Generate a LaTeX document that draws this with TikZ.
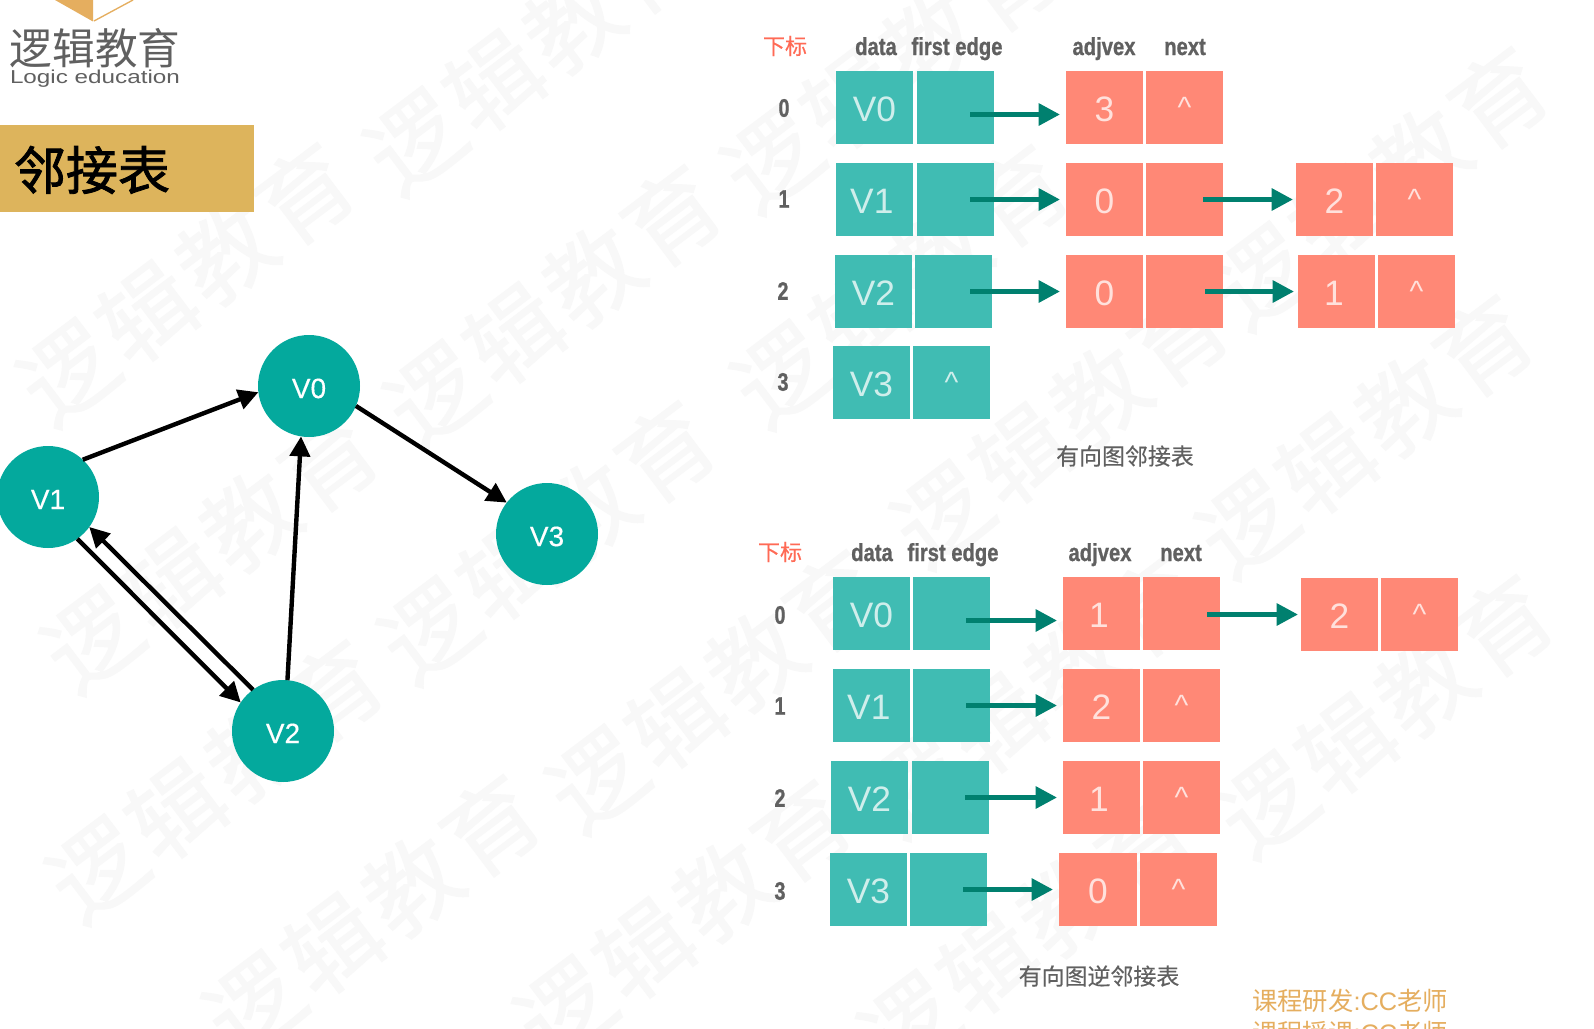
\documentclass[tikz,border=0pt]{standalone}
\usepackage{fontspec}
\setmainfont{Liberation Sans}
\newfontfamily\cjk{Noto Sans CJK SC}
\newfontfamily\cjkwm[FakeBold=1.2,LetterSpace=6]{Noto Sans CJK SC}
\newfontfamily\cjkheavy[FakeBold=1.6]{Noto Sans CJK SC}
\newfontfamily\cjkmid[FakeBold=0.3]{Noto Sans CJK SC}
\newfontfamily\headfont[FakeBold=1]{Liberation Sans Bold}
\newfontfamily\midfont[FakeBold=0.4]{Liberation Sans}
\usetikzlibrary{arrows.meta}
\definecolor{wmark}{HTML}{F8F8F8}
\definecolor{goldbar}{HTML}{DDB45C}
\definecolor{tealc}{HTML}{04A99D}
\definecolor{tealb}{HTML}{40BCB3}
\definecolor{redb}{HTML}{FF8876}
\definecolor{flowc}{HTML}{00806F}
\definecolor{graytx}{HTML}{606060}
\definecolor{redtx}{HTML}{FF6A55}
\definecolor{goldtx}{HTML}{E5AE5F}
\tikzset{
  wm/.style={font=\cjkwm\fontsize{70pt}{70pt}\selectfont,text=wmark,rotate=37,inner sep=0pt},
  vertex/.style={circle,fill=tealc,text=white,minimum size=76.5pt,inner sep=0pt,outer sep=0pt,font=\midfont\fontsize{21pt}{21pt}\selectfont},
  edgeline/.style={draw=black,line width=3.3pt,-{Triangle[length=15pt,width=15pt]}},
  cellbox/.style={inner sep=0pt,outer sep=0pt,text=white,text opacity=.75,font=\fontsize{26.5pt}{26.5pt}\selectfont},
  teal cell/.style={cellbox,fill=tealb},
  red cell/.style={cellbox,fill=redb},
  flow/.style={draw=flowc,line width=3.7pt,-{Triangle[length=16pt,width=16pt]}},
  header/.style={font=\headfont\fontsize{18.5pt}{18.5pt}\selectfont,text=graytx,xscale=.82,inner sep=0pt,anchor=base},
  rowlabel/.style={font=\headfont\fontsize{19pt}{19pt}\selectfont,text=graytx,xscale=.78,inner sep=0pt},
  subscript label/.style={font=\cjkmid\fontsize{16.5pt}{16.5pt}\selectfont,text=redtx,inner sep=0pt},
  caption label/.style={font=\cjkmid\fontsize{17.2pt}{17.2pt}\selectfont,text=graytx,inner sep=0pt},
  credit/.style={font=\cjk\fontsize{19pt}{19pt}\selectfont,text=goldtx,inner sep=0pt,anchor=west},
}
\newcommand{\cellnode}[7]{\node[#6,minimum width={(#4-#2)*0.75},minimum height={(#5-#3)*0.75}] (#1) at ({(#2+#4)/2},{(#3+#5)/2}) {\raisebox{-1pt}[.72em][0pt]{#7}};}
\newcommand{\caretmark}{\raisebox{2.75pt}{\fontsize{22pt}{22pt}\selectfont\textasciicircum}}
\newcommand{\narrowed}[1]{\hspace*{-4pt}#1}
\newcommand{\flowarrow}[4]{\draw[flow] ([shift={(-24,#3)}]#1.east) -- ([shift={(-6,#4)}]#2.west);}
\newcommand{\vlabel}[1]{\raisebox{-1.5pt}[.72em][0pt]{#1}}
\begin{document}
\begin{tikzpicture}[x=0.75pt,y=-0.75pt]
\useasboundingbox (0,0) rectangle (1594,1028);
\clip (0,0) rectangle (1594,1028);
\fill[white] (0,0) rectangle (1594,1028);
% watermark
\foreach \wx/\wy [count=\wi] in {186/283,533/52,890/70,1380/187,553/305,900/285,1060/425,1365/435,210/550,547/541,215/780,715/690,1385/715,372/915,683/920,1027/935,1035/695}{
  \node[wm] (wm\wi) at (\wx,\wy) {逻辑教育};
}
% logo
\fill[goldtx] (55,0) -- (93,21.5) -- (93,0) -- cycle;
\draw[goldtx,line width=1pt] (94,21) -- (133,0);
\node[inner sep=0pt,text=graytx,font=\cjk\fontsize{32pt}{32pt}\selectfont] (logotext) at (95,48) {逻辑教育};
\node[inner sep=0pt,text=graytx,font=\fontsize{14pt}{14pt}\selectfont,xscale=1.3] (logosub) at (95,79) {Logic education};
% title
\fill[goldbar] (0,125) rectangle (254,212);
\node[inner sep=0pt,text=black,font=\cjkheavy\fontsize{39pt}{39pt}\selectfont] (title) at (92,170) {邻接表};
% graph
\node[vertex] (v0) at (309,386) {\vlabel{V0}};
\node[vertex] (v1) at (48,497) {\vlabel{V1}};
\node[vertex] (v2) at (283,731) {\vlabel{V2}};
\node[vertex] (v3) at (547,534) {\vlabel{V3}};
\draw[edgeline] (v1.47) -- (v0.187);
\draw[edgeline] (v0.-23) -- (v3.142);
\draw[edgeline] (v2.85) -- (v0.261);
\draw[edgeline] (v1.-55) -- (v2.146);
\draw[edgeline] (v2.126) -- (v1.-36);
% table 1
\node[subscript label] (ta) at (785,46) {下标};
\node[header] (tb) at (876,55) {data};
\node[header] (tc) at (957,55) {first edge};
\node[header] (td) at (1104,55) {adjvex};
\node[header] (te) at (1185,55) {next};
\node[rowlabel] (r0) at (784,108) {0};
\node[rowlabel] (r1) at (784,199) {1};
\node[rowlabel] (r2) at (783,291) {2};
\node[rowlabel] (r3) at (783,382) {3};
\cellnode{a0}{836}{71}{913}{144}{teal cell}{V0}
\cellnode{b0}{917}{71}{994}{144}{teal cell}{}
\cellnode{c0}{1066}{71}{1143}{144}{red cell}{3}
\cellnode{d0}{1146}{71}{1223}{144}{red cell}{\caretmark}
\cellnode{a1}{836}{163}{913}{236}{teal cell}{\narrowed{V1}}
\cellnode{b1}{917}{163}{994}{236}{teal cell}{}
\cellnode{c1}{1066}{163}{1143}{236}{red cell}{0}
\cellnode{d1}{1146}{163}{1223}{236}{red cell}{}
\cellnode{e1}{1296}{163}{1373}{236}{red cell}{2}
\cellnode{f1}{1376}{163}{1453}{236}{red cell}{\caretmark}
\cellnode{a2}{835}{255}{912}{328}{teal cell}{V2}
\cellnode{b2}{915}{255}{992}{328}{teal cell}{}
\cellnode{c2}{1066}{255}{1143}{328}{red cell}{0}
\cellnode{d2}{1146}{255}{1223}{328}{red cell}{}
\cellnode{e2}{1298}{255}{1375}{328}{red cell}{\narrowed{1}}
\cellnode{f2}{1378}{255}{1455}{328}{red cell}{\caretmark}
\cellnode{a3}{833}{346}{910}{419}{teal cell}{V3}
\cellnode{b3}{913}{346}{990}{419}{teal cell}{\caretmark}
\flowarrow{b0}{c0}{7}{7}
\flowarrow{b1}{c1}{0}{0}
\draw[flow] ([shift={(-22,0)}]b2.east) -- ([shift={(-6,0)}]c2.west);
\draw[flow] ([shift={(-20,0)}]d1.east) -- ([shift={(-3,0)}]e1.west);
\draw[flow] ([shift={(-18,0)}]d2.east) -- ([shift={(-4,0)}]e2.west);
\node[caption label] (capa) at (1125,456) {有向图邻接表};
% table 2
\node[subscript label] (ua) at (780,552) {下标};
\node[header] (ub) at (872,561) {data};
\node[header] (uc) at (953,561) {first edge};
\node[header] (ud) at (1100,561) {adjvex};
\node[header] (ue) at (1181,561) {next};
\node[rowlabel] (s0) at (780,615) {0};
\node[rowlabel] (s1) at (780,706) {1};
\node[rowlabel] (s2) at (780,798) {2};
\node[rowlabel] (s3) at (780,891) {3};
\cellnode{g0}{833}{577}{910}{650}{teal cell}{V0}
\cellnode{h0}{913}{577}{990}{650}{teal cell}{}
\cellnode{i0}{1063}{577}{1140}{650}{red cell}{\narrowed{1}}
\cellnode{j0}{1143}{577}{1220}{650}{red cell}{}
\cellnode{k0}{1301}{578}{1378}{651}{red cell}{2}
\cellnode{l0}{1381}{578}{1458}{651}{red cell}{\caretmark}
\cellnode{g1}{833}{669}{910}{742}{teal cell}{\narrowed{V1}}
\cellnode{h1}{913}{669}{990}{742}{teal cell}{}
\cellnode{i1}{1063}{669}{1140}{742}{red cell}{2}
\cellnode{j1}{1143}{669}{1220}{742}{red cell}{\caretmark}
\cellnode{g2}{831}{761}{908}{834}{teal cell}{V2}
\cellnode{h2}{912}{761}{989}{834}{teal cell}{}
\cellnode{i2}{1063}{761}{1140}{834}{red cell}{\narrowed{1}}
\cellnode{j2}{1143}{761}{1220}{834}{red cell}{\caretmark}
\cellnode{g3}{830}{853}{907}{926}{teal cell}{V3}
\cellnode{h3}{910}{853}{987}{926}{teal cell}{}
\cellnode{i3}{1059}{853}{1137}{926}{red cell}{0}
\cellnode{j3}{1140}{853}{1217}{926}{red cell}{\caretmark}
\flowarrow{h0}{i0}{7}{7}
\flowarrow{h1}{i1}{0}{0}
\flowarrow{h2}{i2}{0}{0}
\flowarrow{h3}{i3}{0}{0}
\draw[flow] ([shift={(-13,1)}]j0.east) -- ([shift={(-3,0)}]k0.west);
\node[caption label] (capb) at (1099,976) {有向图逆邻接表};
% credits
\node[credit] (cra) at (1252,1001) {课程研发{\rmfamily :CC}老师};
\node[credit] (crb) at (1252,1033) {课程授课{\rmfamily :CC}老师};
\end{tikzpicture}
\end{document}
